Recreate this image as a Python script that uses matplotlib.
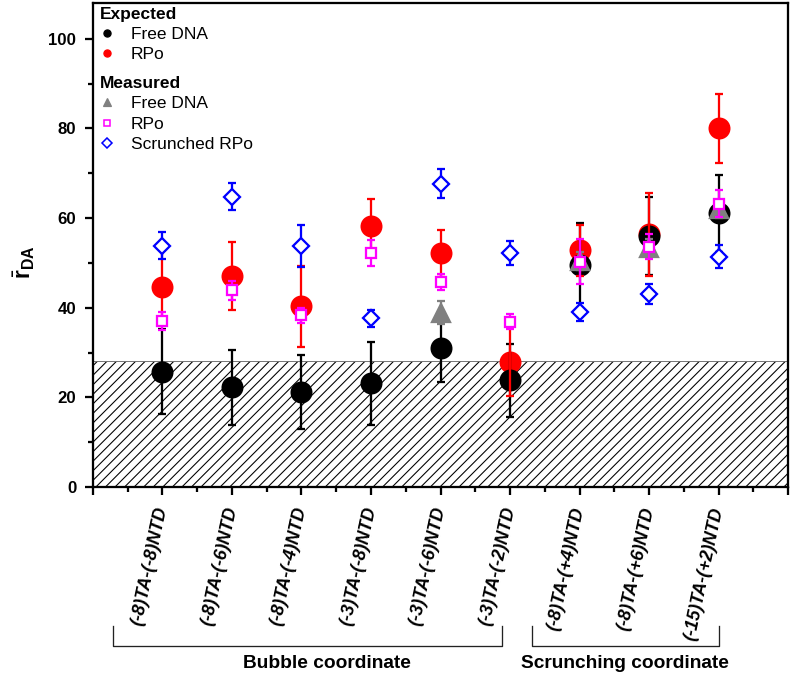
import numpy as np
import matplotlib
matplotlib.use("Agg")
import matplotlib.pyplot as plt
from matplotlib.lines import Line2D
from matplotlib import transforms

plt.rcParams['font.family'] = ['Liberation Sans', 'DejaVu Sans']
plt.rcParams['mathtext.fontset'] = 'custom'
plt.rcParams['mathtext.rm'] = 'Liberation Sans'
plt.rcParams['mathtext.bf'] = 'Liberation Sans:bold'
plt.rcParams['mathtext.it'] = 'Liberation Sans:italic'
plt.rcParams['hatch.linewidth'] = 0.9

# constructs on the x axis
labels = ["(-8)TA-(-8)NTD", "(-8)TA-(-6)NTD", "(-8)TA-(-4)NTD",
          "(-3)TA-(-8)NTD", "(-3)TA-(-6)NTD", "(-3)TA-(-2)NTD",
          "(-8)TA-(+4)NTD", "(-8)TA-(+6)NTD", "(-15)TA-(+2)NTD"]

# expected values
exp_free = [25.7, 22.2, 21.2, 23.1, 30.9, 23.8, 49.5, 56.0, 61.1]
exp_free_err = [9.5, 8.4, 8.2, 9.3, 7.5, 8.2, 9.5, 8.6, 8.6]
exp_rpo = [44.7, 47.1, 40.3, 58.3, 52.1, 27.9, 52.8, 56.4, 80.1]
exp_rpo_err = [8.2, 7.5, 9.0, 6.0, 5.2, 7.6, 5.7, 9.3, 7.7]

# measured values
nan = np.nan
meas_free = [nan, nan, nan, nan, 38.9, nan, 50.5, 53.3, 62.0]
meas_free_err = [nan, nan, nan, nan, 2.6, nan, 2.0, 2.0, 2.0]
meas_rpo = [37.1, 43.9, 38.3, 52.2, 45.8, 36.9, 50.3, 53.6, 63.2]
meas_rpo_err = [2.0, 2.1, 1.7, 2.9, 1.8, 1.6, 5.0, 2.8, 3.0]
scr_rpo = [53.8, 64.8, 53.7, 37.6, 67.7, 52.2, 39.1, 43.1, 51.4]
scr_rpo_err = [3.0, 3.0, 4.7, 2.0, 3.3, 2.6, 2.0, 2.3, 2.6]

# hatched region limit
threshold = 28.2

# groups under the axis
groups = ["Bubble coordinate", "Scrunching coordinate"]
group_spans = [(0.29, 5.88), (6.31, 9.01)]
group_text_x = [3.37, 7.66]

DPI = 86
fig = plt.figure(figsize=(790 / DPI, 677 / DPI), dpi=DPI)
ax = fig.add_axes([0.1177, 0.2807, 0.8798, 0.7149])
x = np.arange(1, len(labels) + 1)

ax.axhspan(0, threshold, facecolor='white', edgecolor='black', hatch='///',
           linewidth=0, zorder=0.5)
ax.axhline(threshold, color='0.45', lw=0.8, zorder=0.6)

LW = 1.9
CAP = 3.7


def bars(y, err, color, z):
    ax.errorbar(x, y, yerr=err, fmt='none', ecolor=color, elinewidth=LW,
                capsize=CAP, capthick=LW, zorder=z)


def marks(y, marker, color, ms, face, z):
    ax.plot(x, y, ls='none', marker=marker, ms=ms, mfc=face, mec=color,
            mew=LW, zorder=z)


# drawing order roughly like the original
marks(exp_rpo, 'o', 'red', 16.5, 'red', 3)
bars(exp_free, exp_free_err, 'black', 3.5)
marks(exp_free, 'o', 'black', 16.5, 'black', 4)
bars(exp_rpo, exp_rpo_err, 'red', 4.5)
bars(meas_free, meas_free_err, 'gray', 5)
marks(meas_free, '^', 'gray', 15, 'gray', 5.5)
bars(meas_rpo, meas_rpo_err, 'magenta', 6)
marks(meas_rpo, 's', 'magenta', 8, 'white', 6.5)
bars(scr_rpo, scr_rpo_err, 'blue', 7)
marks(scr_rpo, 'D', 'blue', 9, 'white', 7.5)

ax.set_xlim(0, 10)
ax.set_ylim(0, 108)
ax.set_xticks(np.arange(0, 11))
ax.set_xticklabels([''] + labels + [''], rotation=78, ha='right', va='center',
                   rotation_mode='anchor', fontstyle='italic',
                   fontweight='bold', fontsize=15)
ax.set_xticks(np.arange(0.5, 10, 1), minor=True)
ax.set_yticks(range(0, 101, 20))
ax.set_yticks(range(10, 101, 20), minor=True)
for t in ax.get_yticklabels():
    t.set_fontweight('bold')
ax.tick_params(axis='y', which='major', labelsize=14, pad=7)
ax.tick_params(axis='x', which='major', pad=10)
ax.tick_params(which='major', direction='out', length=7, width=LW)
ax.tick_params(which='minor', direction='out', length=4.5, width=LW)
for s in ax.spines.values():
    s.set_linewidth(LW)

ax.set_ylabel(r'$\bar{\mathbf{r}}_{\mathbf{DA}}$', fontsize=19)
ax.yaxis.set_label_coords(-0.08, 0.465)

# legend, two blocks with bold titles
h_ef = Line2D([], [], ls='none', marker='o', color='black', ms=6)
h_er = Line2D([], [], ls='none', marker='o', color='red', ms=6)
h_mf = Line2D([], [], ls='none', marker='^', color='gray', ms=6)
h_mr = Line2D([], [], ls='none', marker='s', mec='magenta', mfc='white', mew=1.3, ms=5.5)
h_sr = Line2D([], [], ls='none', marker='D', mec='blue', mfc='white', mew=1.3, ms=5.5)

leg_kw = dict(loc='upper left', frameon=False, alignment='left', fontsize=14.5,
              title_fontproperties={'weight': 'bold', 'size': 14.5},
              handlelength=0.8, handletextpad=1.0, labelspacing=0.3,
              borderpad=0, borderaxespad=0)
leg1 = ax.legend([h_ef, h_er], ['Free DNA', 'RPo'], title='Expected',
                 bbox_to_anchor=(0.01, 0.992), **leg_kw)
ax.add_artist(leg1)
ax.legend([h_mf, h_mr, h_sr], ['Free DNA', 'RPo', 'Scrunched RPo'],
          title='Measured', bbox_to_anchor=(0.01, 0.849), **leg_kw)

# group brackets below the tick labels
trans = transforms.blended_transform_factory(ax.transData, ax.transAxes)
for name, (a, b), tx in zip(groups, group_spans, group_text_x):
    ax.plot([a, a, b, b], [-0.287, -0.329, -0.329, -0.287], transform=trans,
            clip_on=False, color='#222222', lw=1.1)
    ax.text(tx, -0.364, name, transform=trans, ha='center', va='center',
            fontsize=16, fontweight='bold')

fig.savefig('out.png', dpi=DPI)
